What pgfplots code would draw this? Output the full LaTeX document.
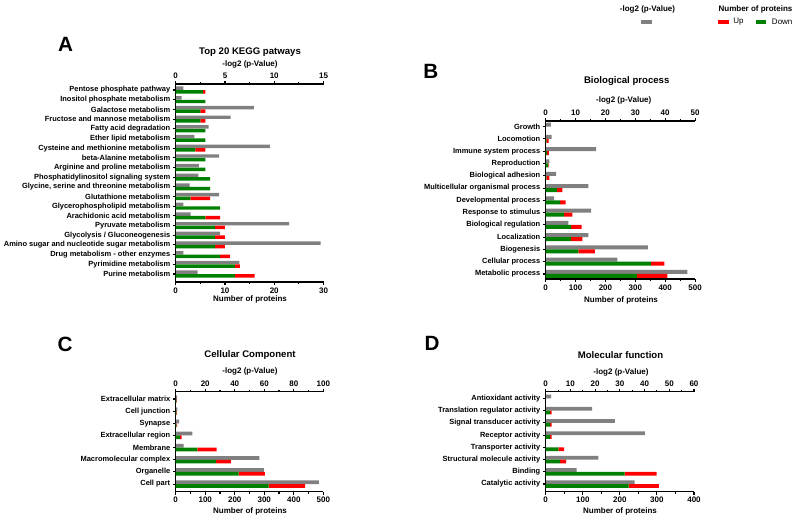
\documentclass[border=0pt]{standalone}
\usepackage{fontspec}
\setmainfont{Liberation Sans}
\usepackage{pgfplots}
\usepackage{pgfplotstable}
\pgfplotsset{compat=1.18}
\definecolor{gbar}{RGB}{128,128,128}
\definecolor{rbar}{RGB}{255,0,0}
\definecolor{dbar}{RGB}{0,128,0}

\pgfplotstableread{
i g d u
0 2.23 12 4
1 6.45 12 1
2 0.78 9 2
3 14.7 8 2
4 4.5 8 2
5 11.5 8 2
6 1.52 6 3
7 0.78 9 0
8 4.4 3 4
9 1.42 7 0
10 2.3 7 0
11 2.36 6 0
12 4.4 6 0
13 9.56 4 2
14 1.9 6 0
15 3.35 6 0
16 5.57 5 1
17 7.94 5 1
18 0.6 6 0
19 0.78 5.5 0.5
}\tabA

\pgfplotstableread{
i g d u
0 47.4 305 102
1 24 352 45
2 34.2 109 56
3 14.3 85 38
4 7.6 85 35
5 15.2 62 27
6 2.8 48 19
7 14.3 37 19
8 3.5 2 10
9 1.2 8 2
10 16.9 5 6
11 2.0 2 8
12 1.7 0 0
}\tabB

\pgfplotstableread{
i g d u
0 97 315 123
1 59.8 213 89
2 56.7 137 50
3 5.4 73 66
4 11.3 14 6
5 2.3 2 3
6 1.1 2 2
7 1.0 2 2
}\tabC

\pgfplotstableread{
i g d u
0 36 224 81
1 12.5 213 86
2 21.3 39 16
3 0 34 16
4 40.1 12 4
5 28 12 4
6 18.8 12 4
7 2.2 0 0
}\tabD

\pgfplotsset{
  common/.style={
    scale only axis, anchor=north west, xmin=0,
    tick align=outside,
    axis line style={line width=0.9pt, black},
    every tick/.style={line width=0.8pt, black},
    major tick length=2.4pt, minor tick length=1.5pt,
    minor x tick num=1,
    /pgf/number format/assume math mode=true,
    ticklabel style={font=\bfseries\fontsize{6}{7}\selectfont},
    x tick label style={inner sep=1.5pt},
    clip=false,
  },
  gaxis/.style={common, xbar, axis x line*=top, axis y line=none, ytick=\empty},
  paxis/.style={common, xbar stacked, axis x line*=bottom, axis y line*=left,
    y tick label style={font=\bfseries\fontsize{5.6}{6.5}\selectfont, inner sep=1.5pt},
    ytick style={line width=0.8pt}},
}

\begin{document}
\begin{tikzpicture}
\begin{scope}[x=0.75pt,y=-0.75pt]
\path[use as bounding box] (0,0) rectangle (800,522);
\end{scope}

% ---------- A ----------
\begin{axis}[gaxis, at={(131.78pt,-63pt)}, width=110.85pt, height=148.5pt,
  xmax=15, xtick={0,5,10,15}, ymin=-0.83, ymax=19.62]
\addplot[fill=gbar, draw=none, bar width=2.6pt, bar shift=1.35pt] table[x=g,y=i]{\tabA};
\end{axis}
\begin{axis}[paxis, at={(131.78pt,-63pt)}, width=110.85pt, height=148.5pt,
  xmax=30, xtick={0,10,20,30}, ymin=-0.83, ymax=19.62,
  ytick={0,...,19},
  yticklabels={Purine metabolism, Pyrimidine metabolism, Drug metabolism - other enzymes,
    Amino sugar and nucleotide sugar metabolism, Glycolysis / Gluconeogenesis, Pyruvate metabolism,
    Arachidonic acid metabolism, Glycerophospholipid metabolism, Glutathione metabolism,
    {Glycine, serine and threonine metabolism}, Phosphatidylinositol signaling system,
    Arginine and proline metabolism, beta-Alanine metabolism, Cysteine and methionine metabolism,
    Ether lipid metabolism, Fatty acid degradation, Fructose and mannose metabolism,
    Galactose metabolism, Inositol phosphate metabolism, Pentose phosphate pathway}]
\addplot[fill=dbar, draw=none, bar width=2.6pt, bar shift=-1.35pt] table[x=d,y=i]{\tabA};
\addplot[fill=rbar, draw=none, bar width=2.6pt, bar shift=-1.35pt] table[x=u,y=i]{\tabA};
\end{axis}

% ---------- B ----------
\begin{axis}[gaxis, at={(409.28pt,-90.75pt)}, width=112pt, height=118.5pt,
  xmax=50, xtick={0,10,...,50}, ymin=-0.41, ymax=12.46]
\addplot[fill=gbar, draw=none, bar width=3pt, bar shift=1.5pt] table[x=g,y=i]{\tabB};
\end{axis}
\begin{axis}[paxis, at={(409.28pt,-90.75pt)}, width=112pt, height=118.5pt,
  xmax=500, xtick={0,100,...,500}, ymin=-0.41, ymax=12.46,
  ytick={0,...,12},
  yticklabels={Metabolic process, Cellular process, Biogenesis, Localization,
    Biological regulation, Response to stimulus, Developmental process,
    Multicellular organismal process, Biological adhesion, Reproduction,
    Immune system process, Locomotion, Growth}]
\addplot[fill=dbar, draw=none, bar width=3pt, bar shift=-1.5pt] table[x=d,y=i]{\tabB};
\addplot[fill=rbar, draw=none, bar width=3pt, bar shift=-1.5pt] table[x=u,y=i]{\tabB};
\end{axis}

% ---------- C ----------
\begin{axis}[gaxis, at={(131.78pt,-293.78pt)}, width=110.7pt, height=75pt,
  xmax=100, xtick={0,20,...,100}, ymin=-0.63, ymax=7.6]
\addplot[fill=gbar, draw=none, bar width=2.8pt, bar shift=1.4pt] table[x=g,y=i]{\tabC};
\end{axis}
\begin{axis}[paxis, at={(131.78pt,-293.78pt)}, width=110.7pt, height=75pt,
  xmax=500, xtick={0,100,...,500}, ymin=-0.63, ymax=7.6,
  ytick={0,...,7},
  yticklabels={Cell part, Organelle, Macromolecular complex, Membrane,
    Extracellular region, Synapse, Cell junction, Extracellular matrix}]
\addplot[fill=dbar, draw=none, bar width=2.8pt, bar shift=-1.4pt] table[x=d,y=i]{\tabC};
\addplot[fill=rbar, draw=none, bar width=2.8pt, bar shift=-1.4pt] table[x=u,y=i]{\tabC};
\end{axis}

% ---------- D ----------
\begin{axis}[gaxis, at={(409.28pt,-293.78pt)}, width=111.2pt, height=75pt,
  xmax=60, xtick={0,10,...,60}, ymin=-0.63, ymax=7.55]
\addplot[fill=gbar, draw=none, bar width=2.8pt, bar shift=1.4pt] table[x=g,y=i]{\tabD};
\end{axis}
\begin{axis}[paxis, at={(409.28pt,-293.78pt)}, width=111.2pt, height=75pt,
  xmax=400, xtick={0,100,...,400}, ymin=-0.63, ymax=7.55,
  ytick={0,...,7},
  yticklabels={Catalytic activity, Binding, Structural molecule activity, Transporter activity,
    Receptor activity, Signal transducer activity, Translation regulator activity, Antioxidant activity}]
\addplot[fill=dbar, draw=none, bar width=2.8pt, bar shift=-1.4pt] table[x=d,y=i]{\tabD};
\addplot[fill=rbar, draw=none, bar width=2.8pt, bar shift=-1.4pt] table[x=u,y=i]{\tabD};
\end{axis}

\begin{scope}[x=0.75pt,y=-0.75pt]
\tikzset{lett/.style={font=\bfseries\fontsize{15.5}{16}\selectfont, inner sep=0},
  ttl/.style={font=\bfseries\fontsize{7.2}{8}\selectfont, inner sep=0},
  lab/.style={font=\bfseries\fontsize{6}{7}\selectfont, inner sep=0}}
\node[lett] at (65.5,44) {A};
\node[ttl] at (250,52) {Top 20 KEGG patways};
\node[lab] at (250,64) {-log2 (p-Value)};
\node[lab] at (250,299.3) {Number of proteins};

\node[lett] at (430.8,71.7) {B};
\node[ttl] at (626.7,80.7) {Biological process};
\node[lab] at (623.7,100) {-log2 (p-Value)};
\node[lab] at (621,300.7) {Number of proteins};

\node[lett] at (65,344.7) {C};
\node[ttl] at (250,355) {Cellular Component};
\node[lab] at (250,371.7) {-log2 (p-Value)};
\node[lab] at (250,511.7) {Number of proteins};

\node[lett] at (432,343.7) {D};
\node[ttl] at (620.5,355) {Molecular function};
\node[lab] at (621,372.3) {-log2 (p-Value)};
\node[lab] at (620,511.7) {Number of proteins};

% legend
\node[lab] at (647.5,9.5) {-log2 (p-Value)};
\fill[gbar] (641,19.9) rectangle (651.5,23.5);
\node[lab] at (755.5,9.5) {Number of proteins};
\fill[rbar] (718.3,19.9) rectangle (729,23.5);
\node[font=\fontsize{6}{7}\selectfont, inner sep=0, anchor=west] at (733,21.7) {Up};
\fill[dbar] (755.7,19.9) rectangle (766.3,23.5);
\node[font=\fontsize{6}{7}\selectfont, inner sep=0, anchor=west] at (771.7,21.7) {Down};
\end{scope}
\end{tikzpicture}
\end{document}
